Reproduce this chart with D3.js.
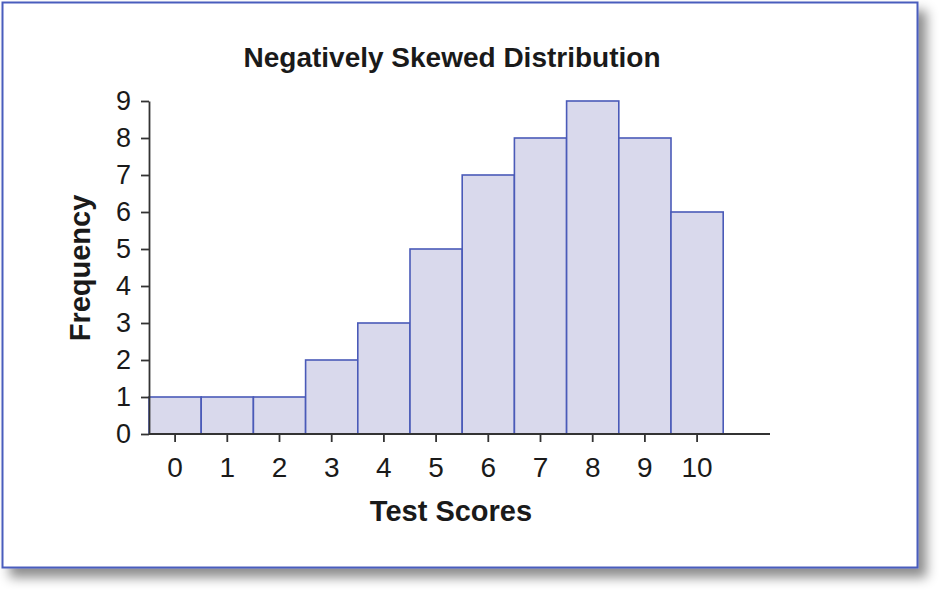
<!DOCTYPE html>
<html>
<head>
<meta charset="utf-8">
<script src="https://cdn.jsdelivr.net/npm/d3@7"></script>
<style>
  body { margin: 0; background: #fff; }
  svg { display: block; font-family: "Liberation Sans", Arial, sans-serif; }
</style>
</head>
<body>
<div id="chart"></div>
<script>
const scores = [0, 1, 2, 3, 4, 5, 6, 7, 8, 9, 10];
const frequency = [1, 1, 1, 2, 3, 5, 7, 8, 9, 8, 6];
const yTicks = [0, 1, 2, 3, 4, 5, 6, 7, 8, 9];

const W = 945, H = 595;
const svg = d3.select("#chart").append("svg")
    .attr("width", W)
    .attr("height", H);

// frame with shadow
const defs = svg.append("defs");
const f = defs.append("filter").attr("id", "shadow")
    .attr("x", "-5%").attr("y", "-5%").attr("width", "115%").attr("height", "120%");
f.append("feDropShadow")
    .attr("dx", 8).attr("dy", 9)
    .attr("stdDeviation", 6)
    .attr("flood-color", "#000")
    .attr("flood-opacity", 0.45);

svg.append("rect")
    .attr("x", 2.5).attr("y", 2.5)
    .attr("width", 915).attr("height", 565)
    .attr("fill", "#fff")
    .attr("stroke", "#4a5dbd")
    .attr("stroke-width", 2)
    .attr("filter", "url(#shadow)");

const plotLeft = 149, axisEnd = 770, plotTop = 101, plotBottom = 434;

const x = d3.scaleBand()
    .domain(scores)
    .range([plotLeft, plotLeft + 11 * 52.2])
    .padding(0);

const y = d3.scaleLinear()
    .domain([0, 9])
    .range([plotBottom, plotTop]);

// bars
svg.append("g")
    .selectAll("rect")
    .data(scores)
    .join("rect")
    .attr("x", d => x(d))
    .attr("y", (d, i) => y(frequency[i]))
    .attr("width", x.bandwidth())
    .attr("height", (d, i) => y(0) - y(frequency[i]))
    .attr("fill", "#d9d9ec")
    .attr("stroke", "#4a5ab8")
    .attr("stroke-width", 1.6);

// y axis
const yAxis = svg.append("g")
    .attr("transform", `translate(${plotLeft},0)`)
    .call(d3.axisLeft(y).tickValues(yTicks).tickSize(8).tickSizeOuter(0).tickPadding(10));
yAxis.selectAll("text").style("font-size", "27px").attr("fill", "#1a1a1a");
yAxis.selectAll("line, path").attr("stroke", "#333").attr("stroke-width", 1.8);

// x axis
const xAxis = svg.append("g")
    .attr("transform", `translate(0,${plotBottom})`)
    .call(d3.axisBottom(x).tickSize(8).tickSizeOuter(0).tickPadding(15));
xAxis.select(".domain").remove();
xAxis.selectAll("text").style("font-size", "28px").attr("fill", "#1a1a1a");
xAxis.selectAll("line").attr("stroke", "#333").attr("stroke-width", 1.8);
xAxis.append("line")
    .attr("x1", plotLeft).attr("x2", axisEnd)
    .attr("stroke", "#333").attr("stroke-width", 1.8);

// titles
svg.append("text")
    .attr("x", 452).attr("y", 67)
    .attr("text-anchor", "middle")
    .style("font-size", "28px").style("font-weight", "bold")
    .attr("fill", "#1a1a1a")
    .text("Negatively Skewed Distribution");

svg.append("text")
    .attr("x", 451).attr("y", 521)
    .attr("text-anchor", "middle")
    .style("font-size", "29px").style("font-weight", "bold")
    .attr("fill", "#1a1a1a")
    .text("Test Scores");

svg.append("text")
    .attr("transform", "rotate(-90)")
    .attr("x", -268).attr("y", 90)
    .attr("text-anchor", "middle")
    .style("font-size", "29px").style("font-weight", "bold")
    .attr("fill", "#1a1a1a")
    .text("Frequency");
</script>
</body>
</html>
